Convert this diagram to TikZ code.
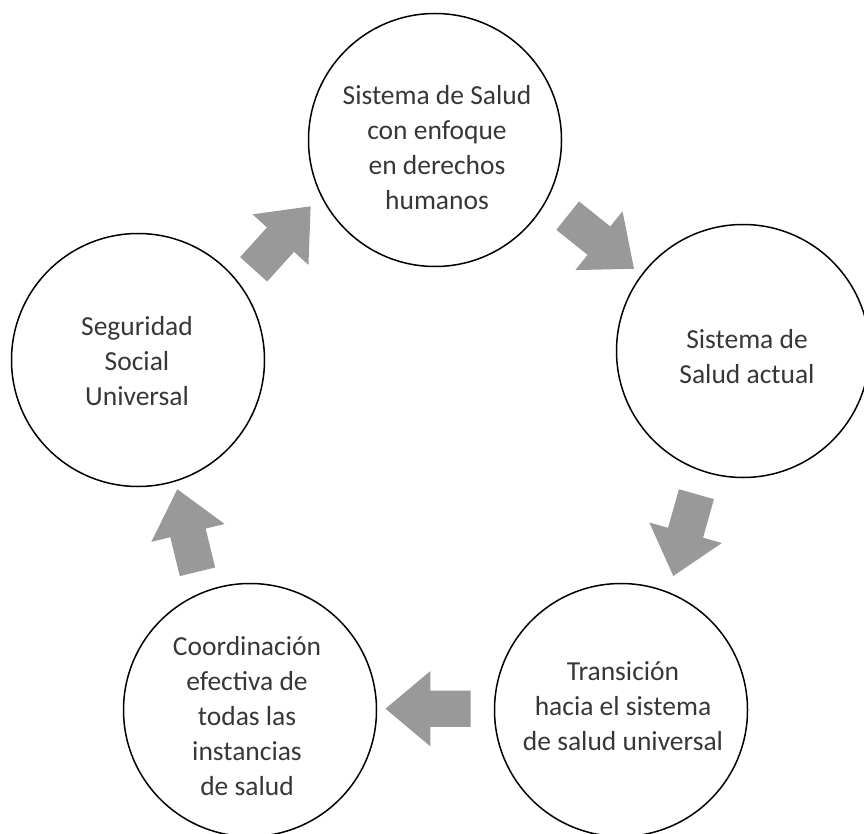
\documentclass[tikz,border=0pt]{standalone}
\usepackage{fontspec}
\setmainfont{Carlito}
\usetikzlibrary{shapes.arrows}
\definecolor{arrowgray}{RGB}{153,153,153}
\definecolor{textgray}{RGB}{55,55,55}
\begin{document}
\begin{tikzpicture}[x=1pt,y=-1pt,
  stage/.style={draw=black, line width=1.5pt, circle, minimum size=253pt, inner sep=0pt},
  stagetext/.style={align=center, text=textgray, font=\fontsize{27.5}{35}\selectfont, inner sep=0pt},
  blockarrow/.style={single arrow, fill=arrowgray, draw=none, minimum height=85pt,
    inner xsep=0pt, inner ysep=18pt, single arrow head extend=19.5pt, single arrow tip angle=80,
    anchor=tail}]
\useasboundingbox (0,0) rectangle (864,834);
% stages
\node[stage] (c1) at (435,140) {};
\node[stage] (c2) at (743,351) {};
\node[stage] (c3) at (621,710) {};
\node[stage] (c4) at (250,710) {};
\node[stage] (c5) at (138,360) {};
% texts
\node[stagetext] (t1) at (437,148) {Sistema de Salud\\con enfoque\\en derechos\\humanos};
\node[stagetext] (t2) at (747,357) {Sistema de\\Salud actual};
\node[stagetext] (t3) at (623,706) {Transición\\hacia el sistema\\de salud universal};
\node[stagetext] (t4) at (247,716) {Coordinación\\efectiva de\\todas las\\instancias\\de salud};
\node[stagetext] (t5) at (137,361) {Seguridad\\Social\\Universal};
% block arrows
\node[blockarrow, rotate=47.9] (a1) at (253.5,269.5) {};
\node[blockarrow, rotate=-38.7] (a2) at (567.5,215.5) {};
\node[blockarrow, rotate=-105.8] (a3) at (696.5,494) {};
\node[blockarrow, rotate=180] (a4) at (470.7,708.7) {};
\node[blockarrow, rotate=103.7] (a5) at (197.5,572) {};
\end{tikzpicture}
\end{document}
